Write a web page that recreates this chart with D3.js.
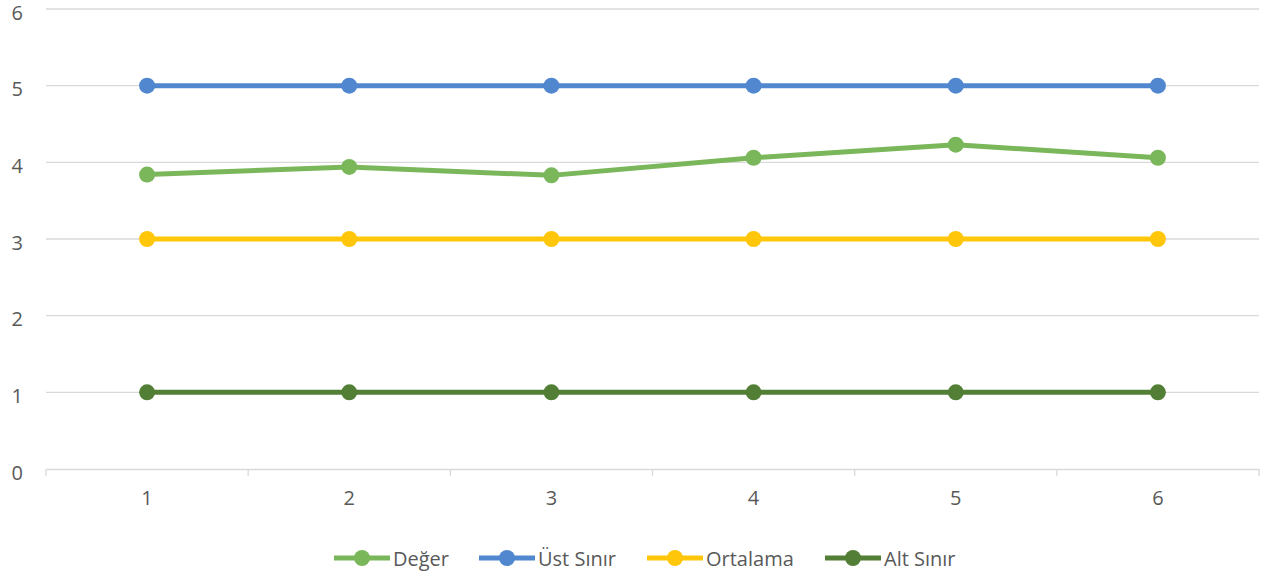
<!DOCTYPE html>
<html><head><meta charset="utf-8">
<script src="https://cdn.jsdelivr.net/npm/d3@7"></script>
<style>body{margin:0;background:#fff}svg{display:block;font-family:"Open Sans",sans-serif}</style>
</head><body><svg id="c" width="1276" height="581"></svg>
<script>
const categories = ["1","2","3","4","5","6"];
const seriesNames = ["Değer","Üst Sınır","Ortalama","Alt Sınır"];
const degerValues = [3.84, 3.94, 3.83, 4.06, 4.23, 4.06];
const ustSinirValues = [5, 5, 5, 5, 5, 5];
const ortalamaValues = [3, 3, 3, 3, 3, 3];
const altSinirValues = [1, 1, 1, 1, 1, 1];
const yTicks = [0,1,2,3,4,5,6];
const colors = ["#7AB75B","#5087CF","#FFC60A","#527F35"];

const series = [degerValues, ustSinirValues, ortalamaValues, altSinirValues];
const svg = d3.select("#c");
const L = 46, R = 1259, T = 9, B = 469;
const x = d3.scaleBand().domain(categories).range([L, R]);
const y = d3.scaleLinear().domain([0, 6]).range([B, T]);

// gridlines
svg.append("g").selectAll("line").data(yTicks.filter(d=>d>0)).join("line")
  .attr("x1", L).attr("x2", R).attr("y1", d=>y(d)).attr("y2", d=>y(d))
  .attr("stroke", "#d9d9d9").attr("stroke-width", 1.3);

// y labels
svg.append("g").selectAll("text").data(yTicks).join("text")
  .attr("x", 23).attr("y", d=>y(d)+3.5).attr("dy","0.36em").attr("text-anchor","end")
  .attr("fill","#595959").attr("font-size",20).text(d=>d);

// x axis
const xa = svg.append("g").attr("transform",`translate(0,${B})`)
  .call(d3.axisBottom(x).tickSize(0).tickPadding(22).tickSizeOuter(0));
xa.select(".domain").attr("stroke","#d9d9d9").attr("stroke-width",1.3);
xa.selectAll("text").attr("fill","#595959").attr("font-size",20).attr("font-family","Open Sans");
const bounds = categories.map(c=>x(c)).concat([R]);
svg.append("g").selectAll("line").data(bounds).join("line")
  .attr("x1", d=>d).attr("x2", d=>d).attr("y1", B).attr("y2", B+7)
  .attr("stroke","#d9d9d9").attr("stroke-width",1.3);

const cx = c => x(c) + x.bandwidth()/2;
const line = d3.line().x((d,i)=>cx(categories[i])).y(d=>y(d));
series.forEach((vals, si) => {
  const g = svg.append("g");
  g.append("path").datum(vals).attr("d", line).attr("fill","none")
    .attr("stroke", colors[si]).attr("stroke-width", 5).attr("stroke-linejoin","round");
  g.selectAll("circle").data(vals).join("circle")
    .attr("cx",(d,i)=>cx(categories[i])).attr("cy",d=>y(d)).attr("r",8)
    .attr("fill", colors[si]);
});

// legend
const legendX = [334, 479, 647, 825];
const lg = svg.append("g");
seriesNames.forEach((n, i) => {
  const g = lg.append("g").attr("transform",`translate(${legendX[i]},558)`);
  g.append("line").attr("x1",0).attr("x2",56).attr("y1",0).attr("y2",0)
    .attr("stroke",colors[i]).attr("stroke-width",5);
  g.append("circle").attr("cx",28).attr("cy",0).attr("r",8).attr("fill",colors[i]);
  g.append("text").attr("x",59).attr("y",1).attr("dy","0.36em")
    .attr("fill","#595959").attr("font-size",20).text(n);
});
</script></body></html>
